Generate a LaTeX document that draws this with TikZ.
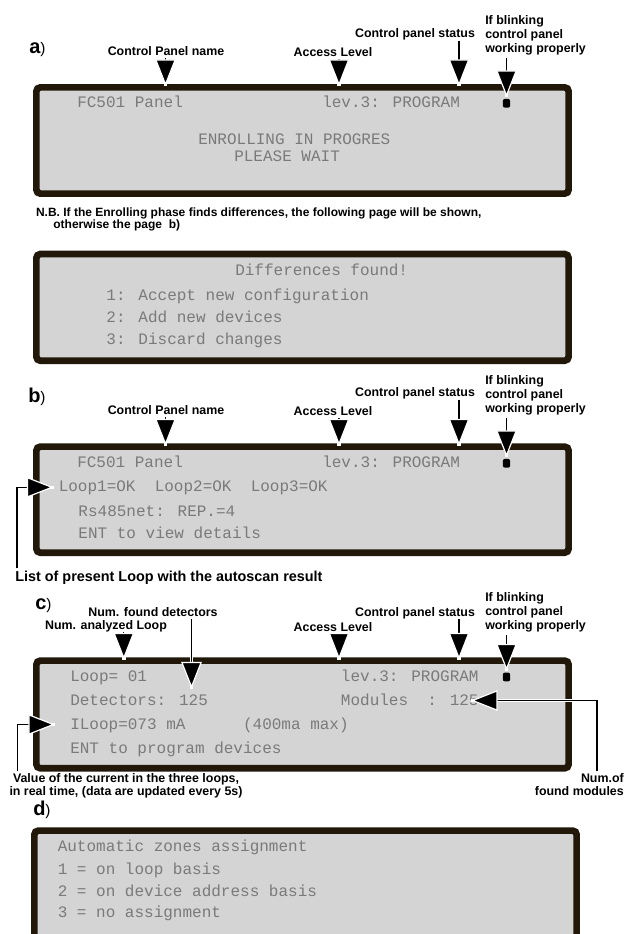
\documentclass[tikz,border=0pt]{standalone}
\usepackage{fontspec}
\setmainfont{Liberation Sans}
\newfontfamily\lcdfont{Liberation Mono}
\usetikzlibrary{arrows.meta,positioning,fit}

\definecolor{lcdframe}{RGB}{33,24,10}
\definecolor{lcdgray}{RGB}{212,212,212}
\definecolor{lcdink}{RGB}{122,122,122}

\newcommand{\panelmark}[1]{{\fontsize{15}{15}\selectfont\bfseries #1}{\fontsize{11.5}{11.5}\selectfont)}}

\begin{document}
\begin{tikzpicture}[x=0.75pt, y=-0.75pt, >=Latex]

\tikzset{
  lcd/.style={draw=lcdframe, fill=lcdgray, line width=5pt, rounded corners=3pt, inner sep=0pt},
  lcdtxt/.style={anchor=west, inner sep=0pt, text height=6.8pt, text depth=0pt,
    font=\lcdfont\fontsize{12}{12}\selectfont, text=lcdink},
  lbl/.style={inner sep=0pt, text height=6.7pt, text depth=0pt,
    font=\bfseries\fontsize{9.3}{10.5}\selectfont},
  lblmulti/.style={inner sep=0pt, font=\bfseries\fontsize{9.3}{10.5}\selectfont},
  note/.style={inner sep=0pt, font=\bfseries\fontsize{9}{9}\selectfont},
  tag/.style={anchor=base west, inner sep=0pt},
  callout/.style={-{Triangle[length=20pt, width=15.5pt, color=white, fill=black]},
    line width=0.9pt, shorten <=2pt, preaction={draw=white, line width=2.6pt, -}},
  blink/.style={fill=black, inner sep=0pt, minimum width=5.5pt, minimum height=6.5pt, rounded corners=1.5pt}
}

\useasboundingbox (0,0) rectangle (627,934);
\clip (0,0) rectangle (627,934);

% ==========================
% a) enrolling page
% ==========================
\node[lcd, fit={(36.35,87.35) (568.65,193.65)}] (panelA) {};
\node[tag] (tagA) at (29,53.3) {\panelmark{a}};

\node[lcdtxt] (nameA) at (77,103.3) {FC501 Panel};
\node[lcdtxt] (levA) at (322,103.3) {lev.3: PROGRAM};
\node[lcdtxt] (enrA) at (198,140) {ENROLLING IN PROGRES};
\node[lcdtxt] (waitA) at (234,156.7) {PLEASE WAIT};
\node[blink] (dotA) at (506.5,103.3) {};

\node[lbl] (lblNameA) at (166,50.7) {Control Panel name};
\node[lbl] (lblAccessA) at (333,52) {Access Level};
\node[lbl] (lblStatusA) at (415,33.3) {Control panel status};
\node[lblmulti, anchor=north west, align=left] (lblBlinkA) at (485,15.5)
  {If blinking\\control panel\\working properly};

\coordinate (tipNameA) at (165.5,86);
\coordinate (tipAccessA) at (339,86);
\coordinate (tipStatusA) at (459,86);
\coordinate (tipBlinkA) at (506.5,97);

\draw[callout] (lblNameA.south -| tipNameA) -- (tipNameA);
\draw[callout] (lblAccessA.south -| tipAccessA) -- (tipAccessA);
\draw[callout] (lblStatusA.south -| tipStatusA) -- (tipStatusA);
\draw[callout] (lblBlinkA.south -| tipBlinkA) -- (tipBlinkA);

% ==========================
% differences page
% ==========================
\node[note, anchor=north west, align=left] (noteNB) at (35.8,207.5)
  {N.B. If the Enrolling phase finds differences, the following page will be shown,\\
   \hspace*{13pt}otherwise the page\ \ b)};

\node[lcd, fit={(36.35,254) (568.65,360.7)}] (panelDiff) {};
\node[lcdtxt] (diffHead) at (235,271) {Differences found!};
\node[lcdtxt] (diffOne) at (106.2,296) {1: Accept new configuration};
\node[lcdtxt] (diffTwo) at (106.2,318.3) {2: Add new devices};
\node[lcdtxt] (diffThree) at (106.2,340) {3: Discard changes};

% ==========================
% b) autoscan result
% ==========================
\node[lcd, fit={(36.35,446.6) (568.65,552.7)}] (panelB) {};
\node[tag] (tagB) at (28,402.7) {\panelmark{b}};

\node[lcdtxt] (nameB) at (77,463.3) {FC501 Panel};
\node[lcdtxt] (levB) at (322,463.3) {lev.3: PROGRAM};
\node[lcdtxt] (loopsB) at (58.5,487.3) {Loop1=OK~~Loop2=OK~~Loop3=OK};
\node[lcdtxt] (netB) at (78.2,511.7) {Rs485net: REP.=4};
\node[lcdtxt] (entB) at (78.2,534) {ENT to view details};
\node[blink] (dotB) at (506.5,463.3) {};

\node[lbl] (lblNameB) at (166,409.7) {Control Panel name};
\node[lbl] (lblAccessB) at (333,411) {Access Level};
\node[lbl] (lblStatusB) at (415,392.3) {Control panel status};
\node[lblmulti, anchor=north west, align=left] (lblBlinkB) at (485,375)
  {If blinking\\control panel\\working properly};
\node[lbl, anchor=west, font=\bfseries\fontsize{10.8}{12}\selectfont, text height=7.7pt]
  (lblListB) at (15,576.5) {List of present Loop with the autoscan result};

\coordinate (tipNameB) at (165.5,445.5);
\coordinate (tipAccessB) at (339,445.5);
\coordinate (tipStatusB) at (459,445.5);
\coordinate (tipBlinkB) at (506.5,457);
\coordinate (cornerListB) at (17,487.3);
\coordinate (tipListB) at (53.5,487.3);

\draw[callout] (lblNameB.south -| tipNameB) -- (tipNameB);
\draw[callout] (lblAccessB.south -| tipAccessB) -- (tipAccessB);
\draw[callout] (lblStatusB.south -| tipStatusB) -- (tipStatusB);
\draw[callout] (lblBlinkB.south -| tipBlinkB) -- (tipBlinkB);
\draw[callout] (lblListB.north -| cornerListB) |- (tipListB);

% ==========================
% c) loop details
% ==========================
\node[lcd, fit={(36.35,660.6) (568.65,768.3)}] (panelC) {};
\node[tag] (tagC) at (35,609.3) {\panelmark{c}};

\node[lcdtxt] (loopC) at (70,676.7) {Loop= 01};
\node[lcdtxt] (levC) at (340.7,676.7) {lev.3: PROGRAM};
\node[lcdtxt] (detC) at (70,700.5) {Detectors: 125};
\node[lcdtxt] (modC) at (340.7,700.5) {Modules~~: 125};
\node[lcdtxt] (curC) at (70,724.5) {ILoop=073 mA~~~~~~(400ma max)};
\node[lcdtxt] (entC) at (70,749) {ENT to program devices};
\node[blink] (dotC) at (506.5,677) {};

\node[lbl] (lblLoopC) at (106,625) {Num. analyzed Loop};
\node[lbl] (lblDetC) at (153,611.7) {Num. found detectors};
\node[lbl] (lblAccessC) at (333,626.7) {Access Level};
\node[lbl] (lblStatusC) at (415,611.7) {Control panel status};
\node[lblmulti, anchor=north west, align=left] (lblBlinkC) at (485,592)
  {If blinking\\control panel\\working properly};
\node[lblmulti, anchor=north, align=center, font=\bfseries\fontsize{9.3}{9.8}\selectfont]
  (lblValueC) at (126,773.5)
  {Value of the current in the three loops,\\in real time, (data are updated every 5s)};
\node[lblmulti, anchor=north east, align=right, font=\bfseries\fontsize{9.3}{9.8}\selectfont]
  (lblModC) at (624,773.5) {Num.of\\found modules};

\coordinate (tipLoopC) at (123.8,659.5);
\coordinate (tipDetC) at (191.5,688.5);
\coordinate (tipAccessC) at (339,659.5);
\coordinate (tipStatusC) at (459,659.5);
\coordinate (tipBlinkC) at (506.5,670.5);
\coordinate (cornerValueC) at (17.3,724.5);
\coordinate (tipValueC) at (55,724.5);
\coordinate (cornerModC) at (597,700.5);
\coordinate (tipModC) at (471,700.5);

\draw[callout] (lblLoopC.south -| tipLoopC) -- (tipLoopC);
\draw[callout] (lblDetC.south -| tipDetC) -- (tipDetC);
\draw[callout] (lblAccessC.south -| tipAccessC) -- (tipAccessC);
\draw[callout] (lblStatusC.south -| tipStatusC) -- (tipStatusC);
\draw[callout] (lblBlinkC.south -| tipBlinkC) -- (tipBlinkC);
\draw[callout] (lblValueC.north -| cornerValueC) |- (tipValueC);
\draw[callout] (lblModC.north -| cornerModC) |- (tipModC);

% ==========================
% d) zones assignment
% ==========================
\node[lcd, fit={(34.35,830.6) (576.65,960)}] (panelD) {};
\node[tag] (tagD) at (33,815) {\panelmark{d}};

\node[lcdtxt] (zoneHead) at (57.5,847.3) {Automatic zones assignment};
\node[lcdtxt] (zoneOne) at (57.5,870) {1 = on loop basis};
\node[lcdtxt] (zoneTwo) at (57.5,891.7) {2 = on device address basis};
\node[lcdtxt] (zoneThree) at (57.5,913.3) {3 = no assignment};

\end{tikzpicture}
\end{document}
